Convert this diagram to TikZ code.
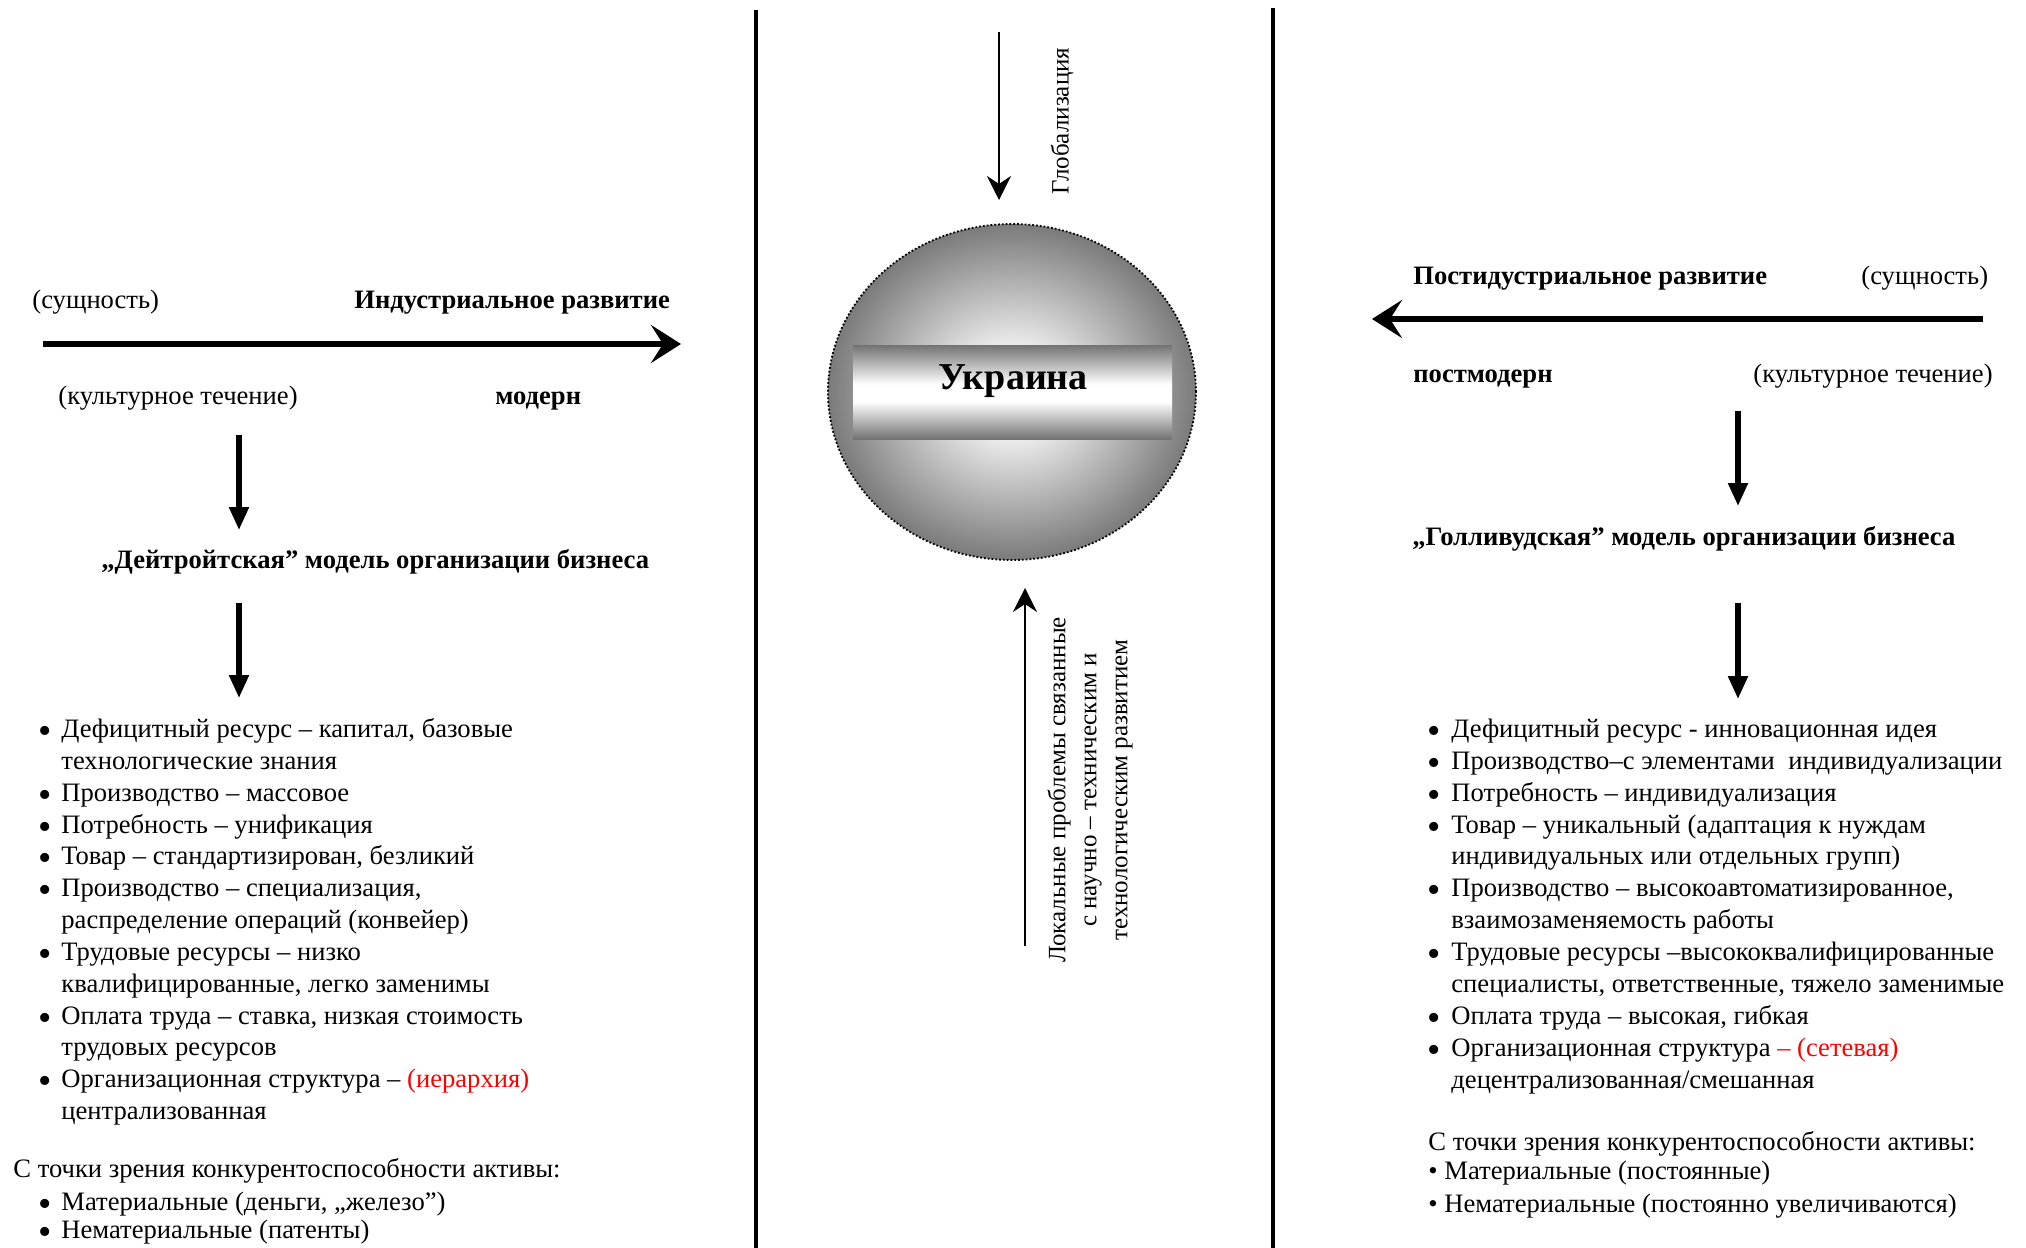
\documentclass[tikz,border=0pt]{standalone}
\usepackage{fontspec}
\setmainfont{Liberation Serif}
\usetikzlibrary{arrows.meta,shapes.geometric}
\pgfdeclareradialshading{globeshade}{\pgfpoint{0bp}{0bp}}{color(0bp)=(white); color(4bp)=(white); color(25bp)=(black!52); color(50bp)=(black!52)}
\pgfdeclareverticalshading{barshade}{100bp}{color(0bp)=(black!55); color(25bp)=(black!55); color(45bp)=(white); color(54bp)=(white); color(75bp)=(black!55); color(100bp)=(black!55)}
\begin{document}
\begin{tikzpicture}[x=0.5pt,y=-0.5pt,
  txt/.style={font=\fontsize{13.3}{16}\selectfont, inner sep=0pt, anchor=base west, text height=9.5pt, text depth=2.8pt},
  btxt/.style={font=\fontsize{13.3}{16}\selectfont\bfseries, inner sep=0pt, anchor=base west, text height=9.5pt, text depth=2.8pt},
  bul/.style={font=\fontsize{19}{19}\selectfont, inner sep=0pt, anchor=base, yshift=-3pt, text height=7pt, text depth=0pt},
  rtxt/.style={font=\fontsize{12.5}{15.5}\selectfont, inner sep=0pt, rotate=90, align=center},
  bigarrow/.style={line width=3pt, -{Stealth[length=15pt,width=19pt,inset=6pt]}},
  downarrow/.style={line width=2.6pt, -{Triangle[length=11.5pt,width=9.5pt]}},
  thinarrow/.style={line width=1.2pt, -{Stealth[length=12pt,width=12pt,inset=4pt]}},
  divider/.style={line width=2.2pt}
]
\useasboundingbox (0,0) rectangle (2026,1248);
\fill[white] (0,0) rectangle (2026,1248);

% dividers
\coordinate (d1t) at (756,10); \coordinate (d1b) at (756,1250);
\coordinate (d2t) at (1273,8); \coordinate (d2b) at (1273,1250);
\draw[divider] (d1t) -- (d1b);
\draw[divider] (d2t) -- (d2b);

% ---------- left ----------
\node[txt] (lsush) at (32,308) {(сущность)};
\node[btxt] (lind) at (354,308) {Индустриальное развитие};
\coordinate (la1) at (43,344); \coordinate (la2) at (681,344);
\draw[bigarrow] (la1) -- (la2);
\node[txt] (lkult) at (58,404) {(культурное течение)};
\node[btxt] (lmod) at (495,404) {модерн};
\coordinate (ld1) at (239,435); \coordinate (ld2) at (239,530);
\draw[downarrow] (ld1) -- (ld2);
\node[btxt] (ldet) at (101,568) {„Дейтройтская” модель организации бизнеса};
\coordinate (ld3) at (239,603); \coordinate (ld4) at (239,698);
\draw[downarrow] (ld3) -- (ld4);

\node[bul] (lb0) at (45,737) {•};
\node[txt] (l0) at (61,737) {Дефицитный ресурс – капитал, базовые};
\node[txt] (l1) at (61,769) {технологические знания};
\node[bul] (lb2) at (45,801) {•};
\node[txt] (l2) at (61,801) {Производство – массовое};
\node[bul] (lb3) at (45,833) {•};
\node[txt] (l3) at (61,833) {Потребность – унификация};
\node[bul] (lb4) at (45,864) {•};
\node[txt] (l4) at (61,864) {Товар – стандартизирован, безликий};
\node[bul] (lb5) at (45,896) {•};
\node[txt] (l5) at (61,896) {Производство – специализация,};
\node[txt] (l6) at (61,928) {распределение операций (конвейер)};
\node[bul] (lb7) at (45,960) {•};
\node[txt] (l7) at (61,960) {Трудовые ресурсы – низко};
\node[txt] (l8) at (61,992) {квалифицированные, легко заменимы};
\node[bul] (lb9) at (45,1024) {•};
\node[txt] (l9) at (61,1024) {Оплата труда – ставка, низкая стоимость};
\node[txt] (l10) at (61,1055) {трудовых ресурсов};
\node[bul] (lb11) at (45,1087) {•};
\node[txt] (l11) at (61,1087) {Организационная структура – \textcolor{red}{(иерархия)}};
\node[txt] (l12) at (61,1119) {централизованная};
\node[txt] (lc) at (13,1177) {С точки зрения конкурентоспособности активы:};
\node[bul] (lcb1) at (45,1210) {•};
\node[txt] (lc1) at (61,1210) {Материальные (деньги, „железо”)};
\node[bul] (lcb2) at (45,1238) {•};
\node[txt] (lc2) at (61,1238) {Нематериальные (патенты)};

% ---------- middle ----------
\coordinate (g1) at (999,32); \coordinate (g2) at (999,200);
\draw[thinarrow] (g1) -- (g2);
\node[rtxt] (glob) at (1062,121) {Глобализация};
\node[ellipse, minimum width=184pt, minimum height=168pt, inner sep=0pt,
      shading=globeshade, draw=black, densely dotted, line width=0.9pt] (globe) at (1012,392) {};
\node[rectangle, minimum width=159.5pt, minimum height=47pt, inner sep=0pt,
      shading=barshade] (bar) at (1012.5,392) {};
\node[font=\fontsize{19}{22}\selectfont\bfseries, inner sep=0pt] (ukr) at (1013,381) {Украина};
\coordinate (u1) at (1025,946); \coordinate (u2) at (1025,588);
\draw[thinarrow, line width=0.9pt] (u1) -- (u2);
\node[rtxt] (loc) at (1090,790) {Локальные проблемы связанные\\с научно – техническим и\\технологическим развитием};

% ---------- right ----------
\node[btxt] (rpost) at (1413,284) {Постидустриальное развитие};
\node[txt] (rsush) at (1861,284) {(сущность)};
\coordinate (ra1) at (1983,319); \coordinate (ra2) at (1372,319);
\draw[bigarrow] (ra1) -- (ra2);
\node[btxt] (rpm) at (1413,382) {постмодерн};
\node[txt] (rkult) at (1753,382) {(культурное течение)};
\coordinate (rd1) at (1738,411); \coordinate (rd2) at (1738,506);
\draw[downarrow] (rd1) -- (rd2);
\node[btxt] (rhol) at (1412,545) {„Голливудская” модель организации бизнеса};
\coordinate (rd3) at (1738,603); \coordinate (rd4) at (1738,699);
\draw[downarrow] (rd3) -- (rd4);

\node[bul] (rb0) at (1434,737) {•};
\node[txt] (r0) at (1451,737) {Дефицитный ресурс - инновационная идея};
\node[bul] (rb1) at (1434,769) {•};
\node[txt] (r1) at (1451,769) {Производство–с элементами\ \ индивидуализации};
\node[bul] (rb2) at (1434,801) {•};
\node[txt] (r2) at (1451,801) {Потребность – индивидуализация};
\node[bul] (rb3) at (1434,833) {•};
\node[txt] (r3) at (1451,833) {Товар – уникальный (адаптация к нуждам};
\node[txt] (r4) at (1451,864) {индивидуальных или отдельных групп)};
\node[bul] (rb5) at (1434,896) {•};
\node[txt] (r5) at (1451,896) {Производство – высокоавтоматизированное,};
\node[txt] (r6) at (1451,928) {взаимозаменяемость работы};
\node[bul] (rb7) at (1434,960) {•};
\node[txt] (r7) at (1451,960) {Трудовые ресурсы –высококвалифицированные};
\node[txt] (r8) at (1451,992) {специалисты, ответственные, тяжело заменимые};
\node[bul] (rb9) at (1434,1024) {•};
\node[txt] (r9) at (1451,1024) {Оплата труда – высокая, гибкая};
\node[bul] (rb10) at (1434,1056) {•};
\node[txt] (r10) at (1451,1056) {Организационная структура \textcolor{red}{– (сетевая)}};
\node[txt] (r11) at (1451,1088) {децентрализованная/смешанная};
\node[txt] (rc) at (1428,1150) {С точки зрения конкурентоспособности активы:};
\node[txt] (rc1) at (1428,1179) {• Материальные (постоянные)};
\node[txt] (rc2) at (1428,1212) {• Нематериальные (постоянно увеличиваются)};
\end{tikzpicture}
\end{document}
